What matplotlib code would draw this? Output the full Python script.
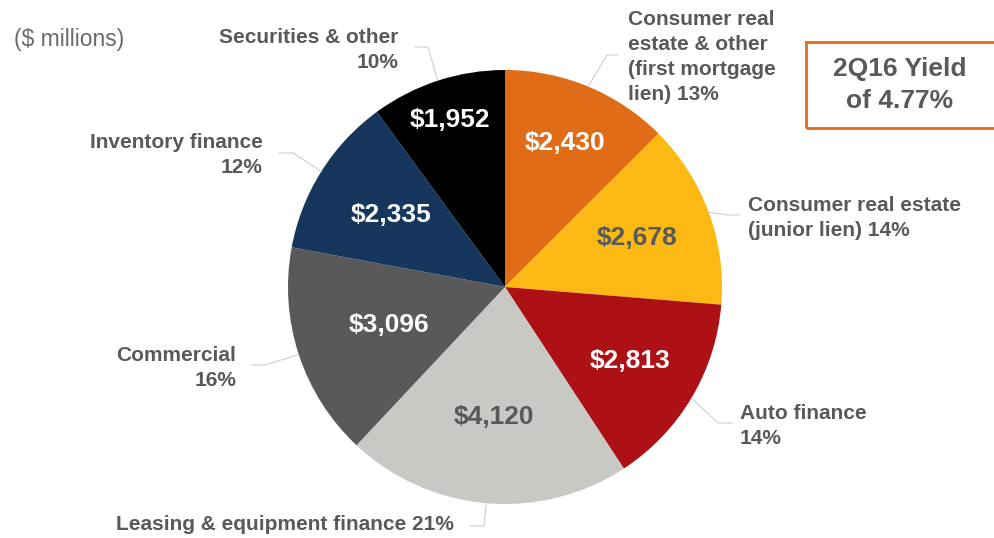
import matplotlib.pyplot as plt
import numpy as np
from matplotlib.patches import Rectangle

# data (clockwise from 12 o'clock)
names = ["Consumer real\nestate & other\n(first mortgage\nlien) 13%",
         "Consumer real estate\n(junior lien) 14%",
         "Auto finance\n14%",
         "Leasing & equipment finance 21%",
         "Commercial\n16%",
         "Inventory finance\n12%",
         "Securities & other\n10%"]
values = [2430, 2678, 2813, 4120, 3096, 2335, 1952]
value_labels = ["$2,430", "$2,678", "$2,813", "$4,120", "$3,096", "$2,335", "$1,952"]
colors = ["#E06C17", "#FDB913", "#AD1015", "#C8C8C4", "#595959", "#17365D", "#000000"]
value_colors = ["white", "#595959", "white", "#595959", "white", "white", "white"]

W, H = 995, 538
GRAY = "#595959"
plt.rcParams['font.family'] = ['Liberation Sans', 'DejaVu Sans']

# layout in pixel coords (y from top)
cx, cy, R = 505, 287, 217
val_dist = [0.72, 0.65, 0.67, 0.60, 0.56, 0.62, 0.81]
# elbow point, end point, text anchor, ha
leaders = [
    ((607, 55), (618, 55), (628, 57), "left"),
    ((727, 215), (739, 215), (748, 218), "left"),
    ((718, 423), (732, 423), (740, 426), "left"),
    ((484, 526), (470, 526), (454, 525), "right"),
    ((265, 365), (252, 365), (236, 368), "right"),
    ((293, 153), (279, 153), (263, 155), "right"),
    ((428, 47), (415, 47), (398, 50), "right"),
]


def fy(y):
    return H - y


fig = plt.figure(figsize=(W / 100, H / 100), dpi=100)
ax = fig.add_axes([0, 0, 1, 1])
ax.set_xlim(0, W)
ax.set_ylim(0, H)
ax.set_aspect("equal")
ax.axis("off")

wedges, _ = ax.pie(values, colors=colors, startangle=90, counterclock=False,
                   center=(cx, fy(cy)), radius=R,
                   wedgeprops=dict(linewidth=0))
ax.set_xlim(0, W)
ax.set_ylim(0, H)

for i, w in enumerate(wedges):
    mid = np.deg2rad((w.theta1 + w.theta2) / 2)
    # value inside slice
    d = val_dist[i] * R
    ax.text(cx + d * np.cos(mid), fy(cy) + d * np.sin(mid), value_labels[i],
            ha="center", va="center", fontsize=19, fontweight="bold",
            color=value_colors[i])
    # leader line and outer label
    (ex, ey), (lx, ly), (tx, ty), ha = leaders[i]
    sx, sy = cx + R * np.cos(mid), fy(cy) + R * np.sin(mid)
    ax.plot([sx, ex, lx], [sy, fy(ey), fy(ly)], color="#C8C8C8", lw=0.7)
    ax.text(tx, fy(ty), names[i], ha=ha, va="center", multialignment=ha,
            fontsize=15, fontweight="bold", color=GRAY, linespacing=1.4)

ax.text(14, fy(39), "($ millions)", ha="left", va="center", fontsize=16.5,
        color="#6A6A6A")

# yield box
ax.add_patch(Rectangle((806, fy(128)), 200, 86, fill=False,
                       edgecolor="#E06C17", lw=2, clip_on=False))
ax.text(900, fy(85), "2Q16 Yield\nof 4.77%", ha="center", va="center",
        fontsize=19, fontweight="bold", color=GRAY, linespacing=1.4)

fig.savefig("out.png", dpi=100)
